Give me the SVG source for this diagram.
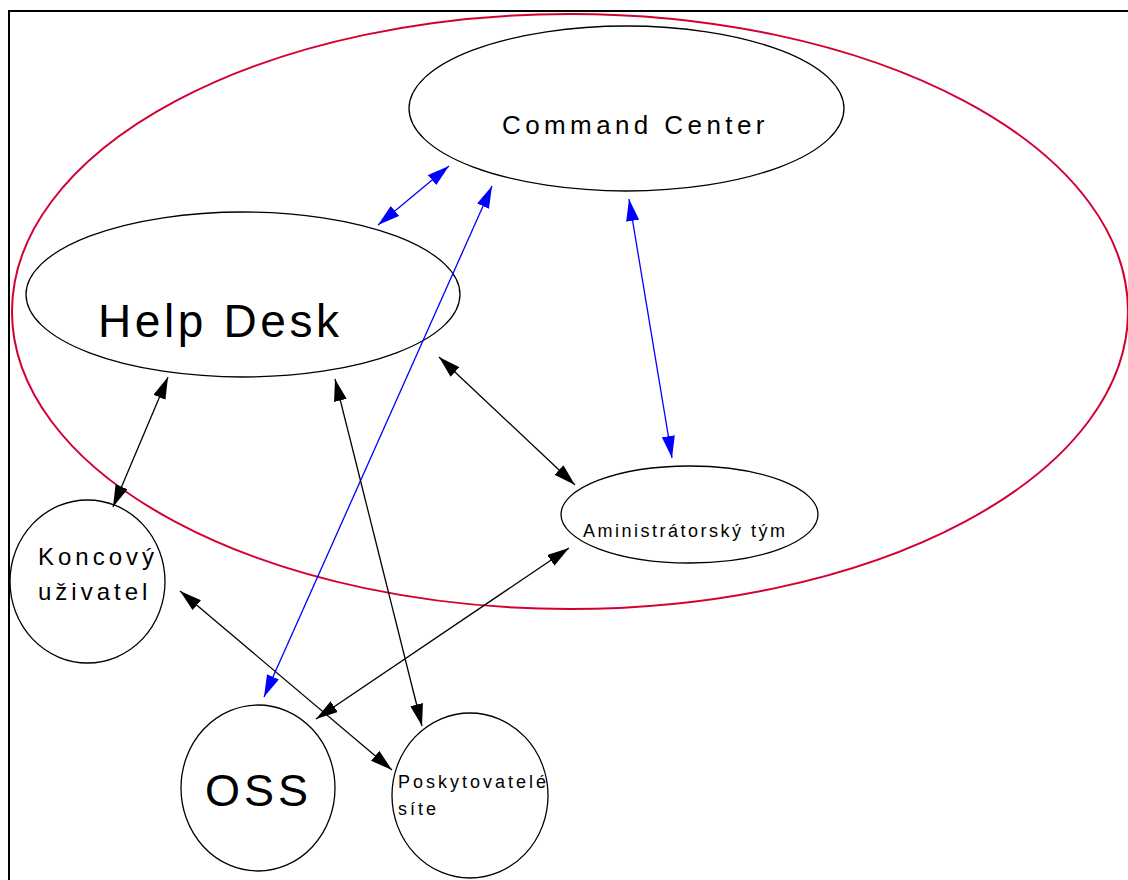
<svg xmlns="http://www.w3.org/2000/svg" width="1128" height="880" viewBox="0 0 1128 880">
<style>
.node{fill:#fff;stroke:#000;stroke-width:1.3}
.t{font-family:"Liberation Sans",Arial,sans-serif;fill:#000}
.blue{stroke:#0000ff;stroke-width:1.3;fill:none;marker-start:url(#ab);marker-end:url(#ab)}
.black{stroke:#000;stroke-width:1.3;fill:none;marker-start:url(#ak);marker-end:url(#ak)}
</style>
<defs>
<marker id="ab" markerUnits="userSpaceOnUse" viewBox="0 0 22 13" refX="22" refY="6.5" markerWidth="22" markerHeight="13" orient="auto-start-reverse"><path d="M0,0 L22,6.5 L0,13 z" fill="#0000ff"/></marker>
<marker id="ak" markerUnits="userSpaceOnUse" viewBox="0 0 22 13" refX="22" refY="6.5" markerWidth="22" markerHeight="13" orient="auto-start-reverse"><path d="M0,0 L22,6.5 L0,13 z" fill="#000"/></marker>
</defs>
<rect x="0" y="0" width="1128" height="880" fill="#fff"/>
<rect x="9" y="11" width="1130" height="880" fill="none" stroke="#000" stroke-width="2"/>
<ellipse id="boundary" cx="570" cy="311.5" rx="558" ry="297.5" fill="none" stroke="#d40032" stroke-width="2"/>
<g id="command-center"><ellipse class="node" cx="626.5" cy="108.5" rx="217.5" ry="82.5"/><text class="t" x="502" y="134" font-size="26" letter-spacing="4.4">Command Center</text></g>
<g id="help-desk"><ellipse class="node" cx="243" cy="294.5" rx="217" ry="82.5"/><text class="t" x="98" y="337" font-size="46" letter-spacing="3.6">Help Desk</text></g>
<g id="admin-team"><ellipse class="node" cx="689.5" cy="514.5" rx="128.5" ry="48.5"/><text class="t" x="583" y="537" font-size="18" letter-spacing="2.5">Aministrátorský tým</text></g>
<g id="koncovy-uzivatel"><ellipse class="node" cx="87.5" cy="581.5" rx="77.5" ry="81.5"/><text class="t" font-size="24" letter-spacing="4"><tspan x="38" y="565">Koncový</tspan><tspan x="38" y="600">uživatel</tspan></text></g>
<g id="oss"><ellipse class="node" cx="258" cy="788" rx="77" ry="83"/><text class="t" x="205" y="806" font-size="45" letter-spacing="4">OSS</text></g>
<g id="poskytovatele"><ellipse class="node" cx="470" cy="795.5" rx="78" ry="82.5"/><text class="t" font-size="18" letter-spacing="3"><tspan x="398" y="788">Poskytovatelé</tspan><tspan x="398" y="815">síte</tspan></text></g>
<g id="connectors">
<line class="blue" x1="378" y1="225" x2="449" y2="166"/>
<line class="blue" x1="264" y1="697" x2="492" y2="186"/>
<line class="blue" x1="629" y1="199" x2="672" y2="458"/>
<line class="black" x1="168" y1="377" x2="113" y2="507"/>
<line class="black" x1="335" y1="379" x2="422" y2="726"/>
<line class="black" x1="439" y1="357" x2="575" y2="485"/>
<line class="black" x1="569" y1="548" x2="316" y2="719"/>
<line class="black" x1="180" y1="591" x2="392" y2="770"/>
</g>
</svg>
